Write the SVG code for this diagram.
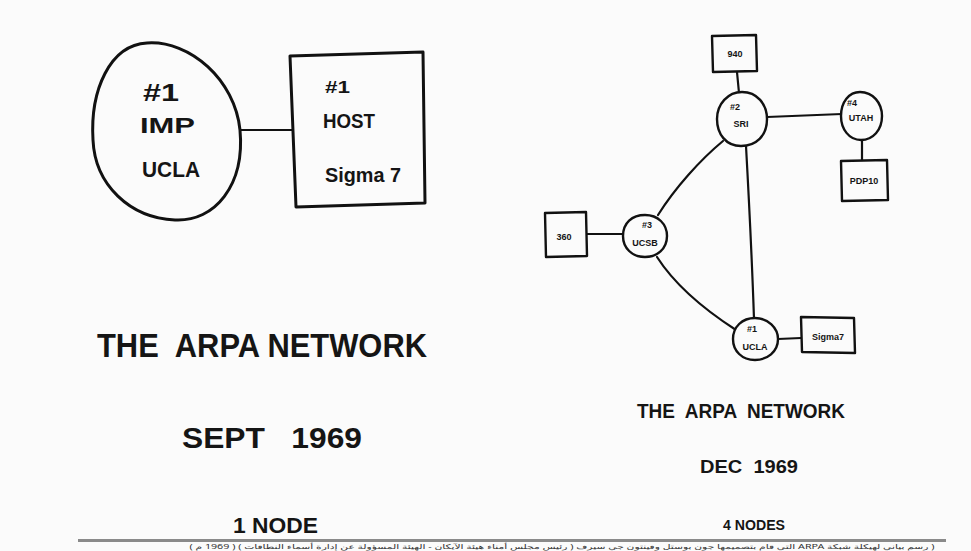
<svg xmlns="http://www.w3.org/2000/svg" width="971" height="551" viewBox="0 0 971 551">
<style>
.ln{fill:none;stroke:#111;stroke-width:2.2;stroke-linecap:round;stroke-linejoin:round}
.sh{fill:#fbfbfb;stroke:#111;stroke-width:2.4;stroke-linejoin:round}
.big{fill:#fbfbfb;stroke:#111;stroke-width:3;stroke-linejoin:round}
.t{font-family:"Liberation Sans",Arial,sans-serif;font-weight:bold;fill:#151515;white-space:pre}
.s{font-size:9px;text-anchor:middle}
.cap{font-family:"Noto Sans","DejaVu Sans",sans-serif;font-size:6.5px;fill:#333}
</style>
<rect width="971" height="551" fill="#fbfbfb"/>
<g id="connectors">
<path class="ln" d="M239,130 L292,130"/>
<path class="ln" d="M737,72 L739,93"/>
<path class="ln" d="M767,117 L842,114"/>
<path class="ln" d="M862,140 L862,160"/>
<path class="ln" d="M723,141 C700,160 675,188 658,215"/>
<path class="ln" d="M746,146 C749,200 752,260 754,319"/>
<path class="ln" d="M587,234 L623,234"/>
<path class="ln" d="M657,257 C675,285 705,310 736,330"/>
<path class="ln" d="M778,339 L801,338"/>
</g>
<g id="imp-ucla">
<path class="big" d="M147,43 C190,40 235,80 240,130 C245,185 215,222 175,220 C130,218 95,185 93,140 C90,90 110,45 147,43 Z"/>
<text class="t" x="143" y="101" font-size="24" textLength="36" lengthAdjust="spacingAndGlyphs">#1</text>
<text class="t" x="140" y="133" font-size="22" textLength="55" lengthAdjust="spacingAndGlyphs">IMP</text>
<text class="t" x="142" y="177" font-size="22" textLength="58" lengthAdjust="spacingAndGlyphs">UCLA</text>
</g>
<g id="host-sigma7">
<path class="big" d="M290,56 L423,52 L425,203 L296,207 Z"/>
<text class="t" x="325" y="93" font-size="16" textLength="25" lengthAdjust="spacingAndGlyphs">#1</text>
<text class="t" x="323" y="128" font-size="21" textLength="52" lengthAdjust="spacingAndGlyphs">HOST</text>
<text class="t" x="325" y="182" font-size="21" textLength="76" lengthAdjust="spacingAndGlyphs">Sigma 7</text>
</g>
<g id="box-940">
<path class="sh" d="M712,36 L756,35 L757,71 L713,72 Z"/>
<text class="t s" x="735" y="57">940</text>
</g>
<g id="sri">
<path class="sh" d="M742,92 C757,92 767,104 767,119 C767,136 756,146 741,146 C726,146 717,134 717,119 C717,104 728,92 742,92 Z"/>
<text class="t s" x="735" y="110" font-size="8">#2</text>
<text class="t s" x="741" y="127">SRI</text>
</g>
<g id="utah">
<path class="sh" d="M860,92 C873,92 882,103 882,116 C882,130 873,140 861,140 C849,140 841,129 841,116 C841,102 849,92 860,92 Z"/>
<text class="t s" x="852" y="106" font-size="7">#4</text>
<text class="t s" x="861" y="121" font-size="8">UTAH</text>
</g>
<g id="pdp10">
<path class="sh" d="M841,161 L887,160 L888,200 L842,201 Z"/>
<text class="t s" x="864" y="184" font-size="8">PDP10</text>
</g>
<g id="box-360">
<path class="sh" d="M545,213 L586,212 L587,256 L546,257 Z"/>
<text class="t s" x="564" y="240">360</text>
</g>
<g id="ucsb">
<path class="sh" d="M645,215 C658,215 667,224 667,236 C667,249 657,257 645,257 C632,257 623,248 623,236 C623,223 632,215 645,215 Z"/>
<text class="t s" x="647" y="228" font-size="8">#3</text>
<text class="t s" x="645" y="246" font-size="8">UCSB</text>
</g>
<g id="ucla">
<path class="sh" d="M755,318 C768,318 778,328 778,339 C778,352 767,360 755,360 C742,360 733,351 733,339 C733,327 742,318 755,318 Z"/>
<text class="t s" x="752" y="332" font-size="7">#1</text>
<text class="t s" x="755" y="350" font-size="8">UCLA</text>
</g>
<g id="sigma7">
<path class="sh" d="M801,317 L854,318 L855,353 L802,352 Z"/>
<text class="t s" x="828" y="340" font-size="9">Sigma7</text>
</g>
<g id="left-titles">
<text class="t" x="97" y="357" font-size="34" textLength="330" lengthAdjust="spacingAndGlyphs" xml:space="preserve">THE  ARPA NETWORK</text>
<text class="t" x="182" y="448" font-size="29" textLength="180" lengthAdjust="spacingAndGlyphs" xml:space="preserve">SEPT   1969</text>
<text class="t" x="233" y="533" font-size="22" textLength="85" lengthAdjust="spacingAndGlyphs">1 NODE</text>
</g>
<g id="right-titles">
<text class="t" x="637" y="418" font-size="20" textLength="208" lengthAdjust="spacingAndGlyphs" xml:space="preserve">THE  ARPA  NETWORK</text>
<text class="t" x="700" y="473" font-size="19" textLength="98" lengthAdjust="spacingAndGlyphs" xml:space="preserve">DEC  1969</text>
<text class="t" x="723" y="530" font-size="14" textLength="62" lengthAdjust="spacingAndGlyphs">4 NODES</text>
</g>
<g id="caption">
<rect x="78" y="539" width="868" height="3" fill="#8a8a8a"/>
<text class="cap" x="562" y="548.5" text-anchor="middle" direction="rtl" textLength="745" lengthAdjust="spacingAndGlyphs">( رسم بياني لهيكلة شبكة ARPA التي قام بتصميمها جون بوستل وفينتون جي سيرف ( رئيس مجلس أمناء هيئة الآيكان - الهيئة المسؤولة عن إدارة أسماء النطاقات ) ( 1969 م )</text>
</g>
</svg>
